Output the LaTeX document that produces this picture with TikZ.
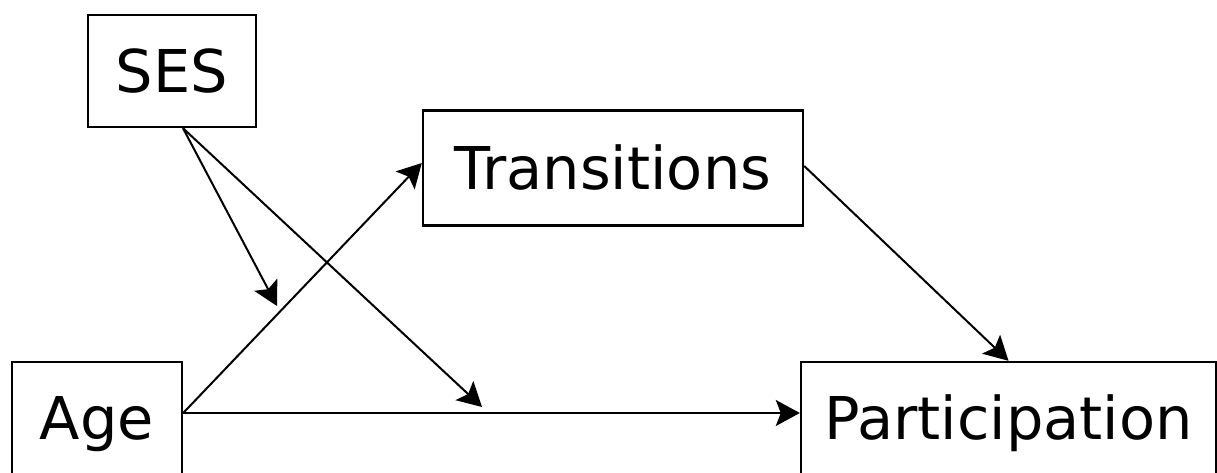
\documentclass[tikz,border=0pt]{standalone}
\usepackage{fontspec}
\setmainfont{DejaVu Sans}
\usetikzlibrary{arrows.meta,calc}
\begin{document}
\begin{tikzpicture}[x=1pt,y=-1pt,
  box/.style={draw,line width=2.4pt,inner sep=0pt,font=\fontsize{59}{59}\selectfont,text height=43pt,text depth=0pt,align=center},
  lowbox/.style={box,text depth=15pt},
  arr/.style={line width=2pt,-{Stealth[length=24pt,width=26pt,inset=5pt]}}]
\clip (0,0) rectangle (1217,473);
\fill[white] (0,0) rectangle (1217,473);
\node[box,minimum width=168pt,minimum height=112pt] (ses) at (172,71) {SES};
\node[box,minimum width=380pt,minimum height=115pt] (trans) at (613,168) {Transitions};
\node[lowbox,minimum width=170pt,minimum height=126pt] (age) at (97,425) {Age};
\node[lowbox,minimum width=415pt,minimum height=126pt] (part) at (1008.5,425) {Participation};
\coordinate (m1) at (277,306);
\coordinate (m2) at (482,407);
\coordinate (sesout) at ($(ses.south)+(11,0)$);
\coordinate (ageout) at ($(age.east)+(0,-12)$);
\draw[arr] (sesout) -- (m1);
\draw[arr] (sesout) -- (m2);
\draw[arr] (ageout) -- ($(trans.west)+(0,-5)$);
\draw[arr] (ageout) -- (ageout -| part.west);
\draw[arr] ($(trans.east)+(0,-2)$) -- (part.north);
\end{tikzpicture}
\end{document}
